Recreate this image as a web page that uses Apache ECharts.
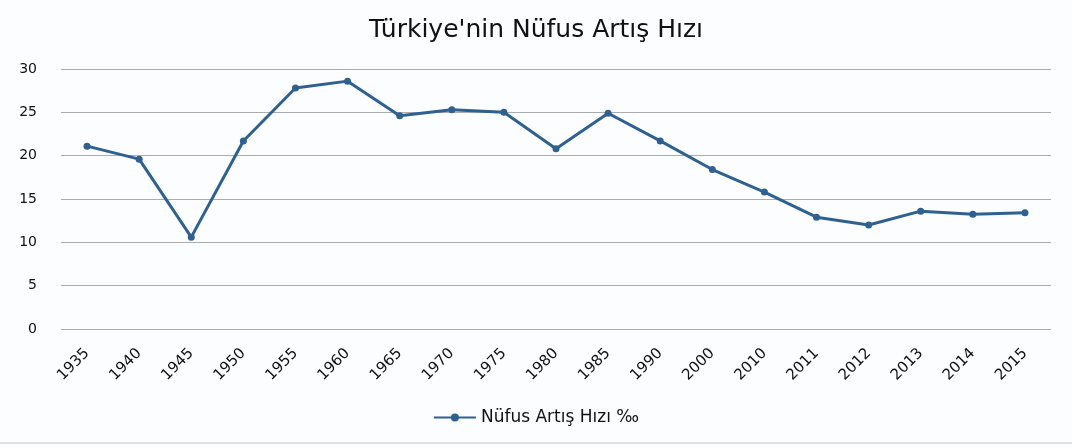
<!DOCTYPE html>
<html>
<head>
<meta charset="utf-8">
<script src="https://cdn.jsdelivr.net/npm/echarts@6/dist/echarts.min.js"></script>
<style>
html,body{margin:0;padding:0;background:#fbfdfe;}
#c{width:1072px;height:448px;}
</style>
</head>
<body>
<div id="c"></div>
<script>
const years = ['1935','1940','1945','1950','1955','1960','1965','1970','1975','1980','1985','1990','2000','2010','2011','2012','2013','2014','2015'];
const growthRate = [21.1,19.6,10.6,21.7,27.8,28.6,24.6,25.3,25.0,20.8,24.9,21.7,18.4,15.8,12.9,12.0,13.6,13.25,13.4];
const seriesName = 'Nüfus Artış Hızı ‰';
const titleText = "Türkiye'nin Nüfus Artış Hızı";
const yTicks = {min:0, max:30, interval:5};

const font = '"DejaVu Sans", sans-serif';
const chart = echarts.init(document.getElementById('c'));
chart.setOption({
  backgroundColor:'#fbfdfe',
  animation:false,
  title:{text:titleText,left:'center',top:13,textStyle:{fontFamily:font,fontSize:25,fontWeight:'normal',color:'#111'}},
  grid:{left:61,right:21,top:69,bottom:119},
  legend:{bottom:17,left:'center',itemWidth:42,itemHeight:10,itemGap:4,
    textStyle:{fontFamily:font,fontSize:17,color:'#111'},data:[seriesName]},
  xAxis:{type:'category',data:years,boundaryGap:true,
    axisLine:{show:false},axisTick:{show:false},
    axisLabel:{rotate:45,fontFamily:font,fontSize:15,color:'#111',margin:22,interval:0}},
  yAxis:{type:'value',min:yTicks.min,max:yTicks.max,interval:yTicks.interval,
    axisLine:{show:false},axisTick:{show:false},
    splitLine:{lineStyle:{color:'#a9adb2',width:1}},
    axisLabel:{fontFamily:font,fontSize:14,color:'#111',margin:24}},
  series:[{name:seriesName,type:'line',data:growthRate,
    lineStyle:{color:'#2f6190',width:3},
    itemStyle:{color:'#2f6190'},
    symbol:'circle',symbolSize:7}],
  graphic:[{type:'line',shape:{x1:0,y1:443,x2:1072,y2:443},style:{stroke:'#c4c8cc',lineWidth:1}}]
});
</script>
</body>
</html>
